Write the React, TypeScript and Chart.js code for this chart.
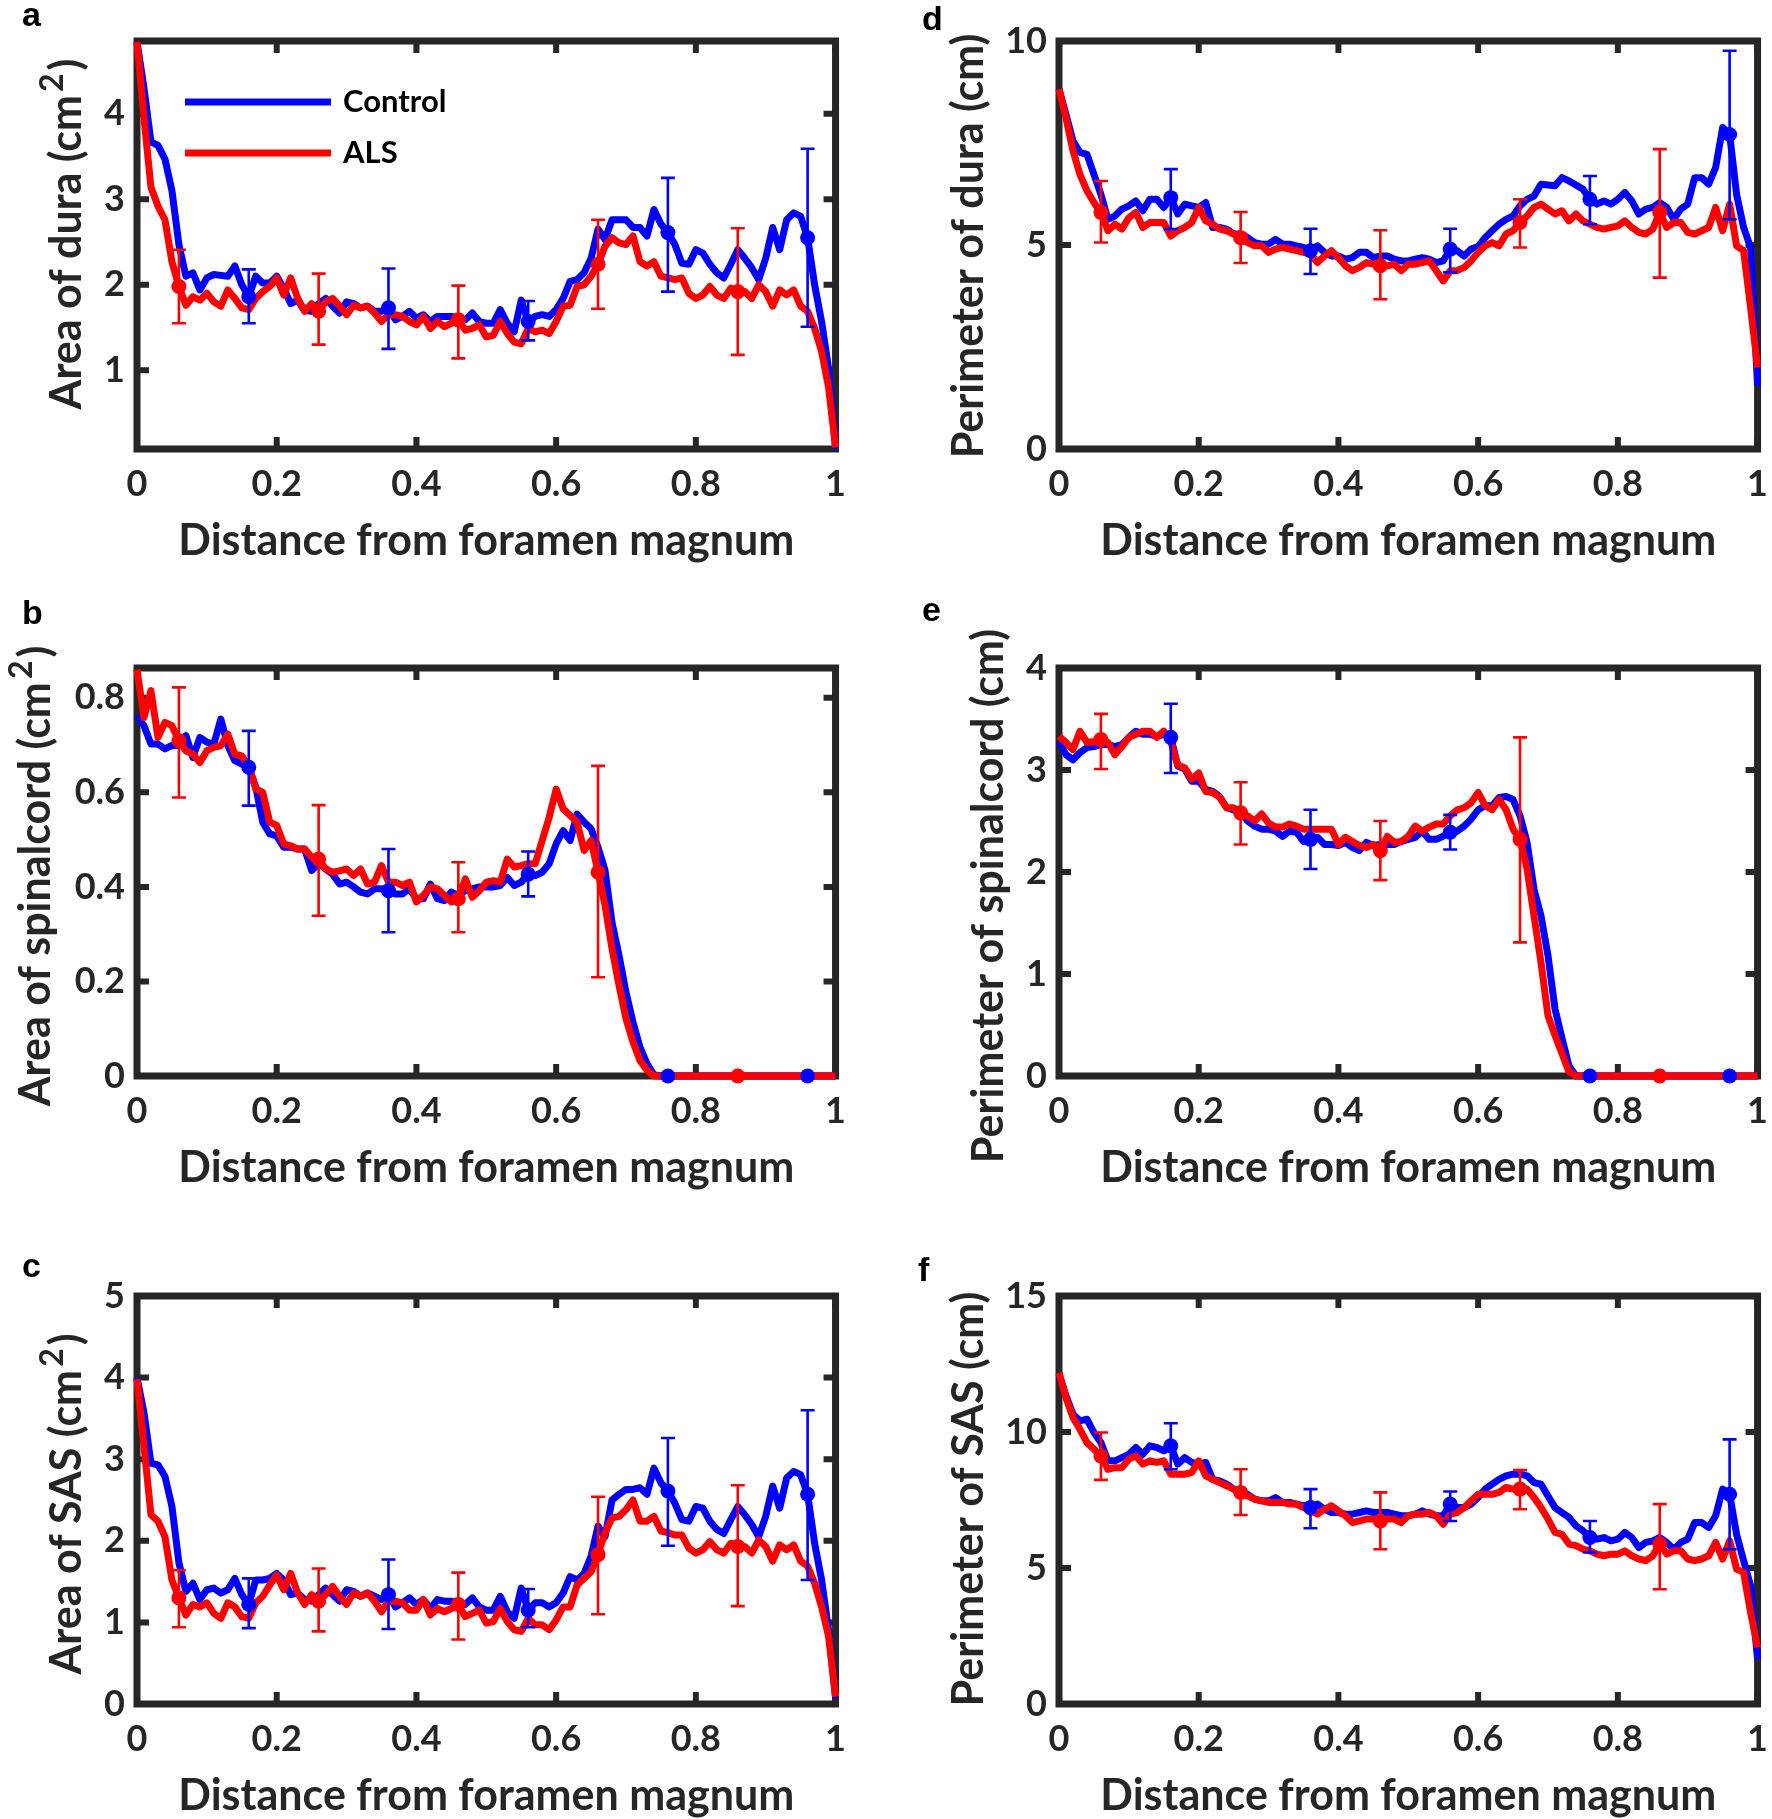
import React, { useEffect, useRef } from "react";
import { Chart, registerables } from "chart.js";

Chart.register(...registerables);

// ---------------- data ----------------
const DIST = Array.from({ length: 101 }, (_, i) => i / 100);
const X_TICKS = [0, 0.2, 0.4, 0.6, 0.8, 1];
const CTRL_ERR_X = [0.16, 0.36, 0.56, 0.76, 0.96];
const ALS_ERR_X = [0.06, 0.26, 0.46, 0.66, 0.86];

// (a) Area of dura
const A_Y_TICKS = [1, 2, 3, 4];
const A_CTRL = [
  4.84, 4.3, 3.67, 3.63, 3.47, 3.1, 2.47, 2.1, 2.14, 1.94,
  2.08, 2.12, 2.11, 2.1, 2.22, 2.0, 1.86, 2.1, 2.02, 2.02,
  2.1, 1.96, 1.78, 1.82, 1.7, 1.69, 1.78, 1.84, 1.75, 1.67,
  1.8, 1.78, 1.73, 1.75, 1.69, 1.69, 1.73, 1.59, 1.63, 1.69,
  1.61, 1.65, 1.57, 1.63, 1.63, 1.63, 1.61, 1.59, 1.67, 1.57,
  1.55, 1.55, 1.71, 1.55, 1.45, 1.82, 1.57, 1.63, 1.65, 1.63,
  1.71, 1.84, 2.04, 2.06, 2.14, 2.31, 2.65, 2.53, 2.76, 2.76,
  2.76, 2.67, 2.67, 2.57, 2.88, 2.71, 2.61, 2.47, 2.25, 2.24,
  2.41, 2.37, 2.24, 2.14, 2.08, 2.24, 2.41, 2.31, 2.2, 2.06,
  2.31, 2.67, 2.41, 2.76, 2.84, 2.8, 2.55, 2.0, 1.57, 1.02,
  0.08,
];
const A_ALS = [
  4.84, 3.95, 3.14, 2.92, 2.76, 2.27, 1.98, 1.76, 1.86, 1.82,
  1.9, 1.8, 1.75, 1.94, 1.84, 1.73, 1.71, 1.84, 1.92, 1.98,
  2.08, 1.88, 2.08, 1.84, 1.69, 1.78, 1.69, 1.8, 1.84, 1.75,
  1.65, 1.76, 1.73, 1.75, 1.67, 1.57, 1.65, 1.65, 1.63, 1.57,
  1.53, 1.63, 1.49, 1.57, 1.51, 1.55, 1.59, 1.47, 1.49, 1.53,
  1.39, 1.41, 1.57, 1.43, 1.33, 1.31, 1.49, 1.45, 1.47, 1.43,
  1.57, 1.75, 1.76, 1.98, 2.0, 2.1, 2.24, 2.45, 2.55, 2.49,
  2.47, 2.57, 2.27, 2.22, 2.27, 2.1, 2.08, 2.06, 2.08, 1.9,
  1.84, 1.88, 1.98, 1.88, 1.84, 1.96, 1.92, 1.92, 1.84, 2.0,
  1.92, 1.75, 1.94, 1.88, 1.94, 1.75, 1.69, 1.49, 1.22, 0.8,
  0.1,
];
const A_CTRL_ERR = [[1.55, 2.18], [1.25, 2.19], [1.35, 1.81], [1.92, 3.25], [1.51, 3.59]];
const A_ALS_ERR = [[1.55, 2.41], [1.3, 2.13], [1.14, 1.99], [1.72, 2.76], [1.18, 2.66]];

// (b) Area of spinal cord
const B_Y_TICKS = [0, 0.2, 0.4, 0.6, 0.8];
const B_CTRL = [
  0.762, 0.741, 0.702, 0.702, 0.692, 0.699, 0.699, 0.72, 0.674, 0.716,
  0.706, 0.702, 0.755, 0.699, 0.667, 0.66, 0.653, 0.611, 0.537, 0.512,
  0.508, 0.484, 0.484, 0.48, 0.48, 0.435, 0.449, 0.438, 0.427, 0.406,
  0.41, 0.4, 0.389, 0.385, 0.396, 0.396, 0.392, 0.385, 0.385, 0.396,
  0.375, 0.375, 0.406, 0.375, 0.371, 0.389, 0.382, 0.392, 0.396, 0.4,
  0.4, 0.4, 0.403, 0.42, 0.403, 0.41, 0.427, 0.424, 0.431, 0.449,
  0.491, 0.519, 0.498, 0.554, 0.537, 0.523, 0.484, 0.435, 0.325, 0.255,
  0.177, 0.114, 0.061, 0.026, 0.003, 0, 0, 0, 0, 0,
  0, 0, 0, 0, 0, 0, 0, 0, 0, 0,
  0, 0, 0, 0, 0, 0, 0, 0, 0, 0,
  0,
];
const B_ALS = [
  0.86, 0.758, 0.815, 0.716, 0.748, 0.741, 0.709, 0.688, 0.681, 0.663,
  0.688, 0.695, 0.699, 0.723, 0.681, 0.677, 0.656, 0.607, 0.6, 0.537,
  0.53, 0.491, 0.487, 0.48, 0.48, 0.463, 0.459, 0.438, 0.431, 0.434,
  0.438, 0.424, 0.438, 0.406, 0.41, 0.445, 0.41, 0.41, 0.403, 0.41,
  0.368, 0.382, 0.4, 0.396, 0.382, 0.368, 0.375, 0.417, 0.378, 0.392,
  0.41, 0.413, 0.41, 0.459, 0.442, 0.445, 0.449, 0.449, 0.498, 0.547,
  0.607, 0.565, 0.551, 0.537, 0.477, 0.498, 0.431, 0.361, 0.269, 0.192,
  0.121, 0.072, 0.033, 0.012, 0, 0, 0, 0, 0, 0,
  0, 0, 0, 0, 0, 0, 0, 0, 0, 0,
  0, 0, 0, 0, 0, 0, 0, 0, 0, 0,
  0,
];
const B_CTRL_ERR = [[0.572, 0.73], [0.304, 0.48], [0.38, 0.475], [0, 0], [0, 0]];
const B_ALS_ERR = [[0.589, 0.822], [0.339, 0.573], [0.304, 0.452], [0.209, 0.656], [0, 0]];

// (c) Area of SAS
const C_Y_TICKS = [0, 1, 2, 3, 4, 5];
const C_CTRL = [
  4.0, 3.57, 2.95, 2.93, 2.79, 2.42, 1.73, 1.38, 1.48, 1.28,
  1.4, 1.42, 1.36, 1.4, 1.54, 1.34, 1.22, 1.52, 1.52, 1.54,
  1.6, 1.52, 1.34, 1.36, 1.28, 1.26, 1.34, 1.42, 1.34, 1.26,
  1.4, 1.38, 1.32, 1.36, 1.32, 1.28, 1.34, 1.19, 1.24, 1.3,
  1.22, 1.28, 1.17, 1.28, 1.26, 1.26, 1.24, 1.22, 1.3, 1.19,
  1.15, 1.15, 1.32, 1.13, 1.05, 1.42, 1.15, 1.24, 1.24, 1.19,
  1.24, 1.36, 1.56, 1.52, 1.6, 1.81, 2.18, 2.05, 2.5, 2.57,
  2.63, 2.63, 2.65, 2.57, 2.89, 2.71, 2.61, 2.46, 2.26, 2.24,
  2.42, 2.4, 2.24, 2.14, 2.09, 2.26, 2.42, 2.32, 2.2, 2.05,
  2.3, 2.67, 2.4, 2.77, 2.85, 2.81, 2.57, 1.97, 1.52, 0.91,
  0.07,
];
const C_ALS = [
  3.98, 3.16, 2.32, 2.24, 2.05, 1.52, 1.3, 1.09, 1.22, 1.19,
  1.24, 1.11, 1.05, 1.24, 1.19, 1.07, 1.05, 1.24, 1.32, 1.46,
  1.58, 1.4, 1.6, 1.36, 1.22, 1.34, 1.26, 1.34, 1.44, 1.32,
  1.22, 1.36, 1.32, 1.36, 1.26, 1.13, 1.26, 1.26, 1.24, 1.15,
  1.15, 1.28, 1.09, 1.17, 1.13, 1.17, 1.22, 1.07, 1.11, 1.15,
  0.99, 1.01, 1.17, 1.01, 0.91, 0.89, 1.05, 0.97, 0.97, 0.91,
  1.03, 1.19, 1.19, 1.46, 1.54, 1.62, 1.83, 2.1, 2.28, 2.3,
  2.38, 2.5, 2.24, 2.24, 2.3, 2.12, 2.1, 2.07, 2.07, 1.91,
  1.85, 1.89, 1.99, 1.89, 1.85, 1.97, 1.93, 1.93, 1.85, 2.01,
  1.93, 1.75, 1.95, 1.89, 1.95, 1.75, 1.69, 1.48, 1.19, 0.83,
  0.09,
];
const C_CTRL_ERR = [[0.93, 1.54], [0.92, 1.77], [0.94, 1.41], [1.94, 3.26], [1.52, 3.6]];
const C_ALS_ERR = [[0.94, 1.64], [0.89, 1.66], [0.79, 1.61], [1.1, 2.54], [1.2, 2.68]];

// (d) Perimeter of dura
const D_Y_TICKS = [0, 5, 10];
const D_CTRL = [
  8.82, 8.2, 7.55, 7.27, 7.22, 6.73, 6.24, 5.63, 5.71, 5.88,
  5.96, 6.08, 5.84, 6.12, 6.12, 5.92, 6.16, 5.76, 6.0, 5.96,
  5.92, 6.04, 5.43, 5.43, 5.39, 5.27, 5.27, 5.18, 5.06, 5.02,
  5.02, 5.14, 5.02, 5.02, 4.98, 4.94, 4.86, 4.98, 4.82, 4.73,
  4.73, 4.65, 4.69, 4.82, 4.82, 4.69, 4.73, 4.73, 4.65, 4.61,
  4.61, 4.65, 4.69, 4.65, 4.57, 4.61, 4.9, 4.86, 4.73, 4.9,
  4.96, 5.18, 5.35, 5.51, 5.63, 5.71, 5.96, 6.12, 6.2, 6.49,
  6.47, 6.45, 6.65, 6.57, 6.47, 6.37, 6.12, 6.0, 6.08, 6.0,
  6.12, 6.29, 6.08, 5.76, 5.88, 5.92, 6.04, 5.92, 5.63, 5.88,
  6.0, 6.65, 6.65, 6.49, 6.9, 7.88, 7.71, 6.24, 5.43, 4.94,
  1.55,
];
const D_ALS = [
  8.82, 8.12, 7.31, 6.73, 6.33, 6.04, 5.8, 5.35, 5.51, 5.39,
  5.67, 5.8, 5.43, 5.55, 5.55, 5.55, 5.22, 5.35, 5.43, 5.55,
  5.92, 5.59, 5.51, 5.39, 5.35, 5.27, 5.18, 5.06, 4.98, 4.98,
  4.82, 4.9, 4.94, 4.9, 4.86, 4.82, 4.78, 4.57, 4.73, 4.86,
  4.69, 4.49, 4.37, 4.45, 4.57, 4.53, 4.49, 4.49, 4.53, 4.37,
  4.53, 4.53, 4.57, 4.61, 4.37, 4.12, 4.37, 4.37, 4.45, 4.61,
  4.82, 4.98, 5.06, 4.98, 5.27, 5.35, 5.55, 5.71, 5.92, 6.0,
  5.88, 5.76, 5.84, 5.59, 5.76, 5.59, 5.51, 5.43, 5.39, 5.43,
  5.47, 5.59, 5.43, 5.31, 5.27, 5.39, 5.8, 5.43, 5.55, 5.55,
  5.31, 5.27, 5.35, 5.43, 5.92, 5.35, 6.0, 4.98, 4.86, 3.47,
  2.0,
];
const D_CTRL_ERR = [[5.39, 6.86], [4.29, 5.4], [4.33, 5.4], [5.51, 6.69], [5.63, 9.76]];
const D_ALS_ERR = [[5.06, 6.57], [4.56, 5.81], [3.67, 5.36], [4.94, 6.12], [4.2, 7.35]];

// (e) Perimeter of spinal cord
const E_Y_TICKS = [0, 1, 2, 3, 4];
const E_CTRL = [
  3.28, 3.15, 3.1, 3.17, 3.22, 3.23, 3.25, 3.25, 3.23, 3.25,
  3.32, 3.38, 3.35, 3.35, 3.33, 3.35, 3.32, 3.04, 3.01, 2.89,
  2.89, 2.81, 2.79, 2.74, 2.63, 2.61, 2.58, 2.5, 2.45, 2.42,
  2.42, 2.4, 2.35, 2.4, 2.39, 2.3, 2.32, 2.34, 2.27, 2.27,
  2.26, 2.29, 2.24, 2.21, 2.29, 2.26, 2.27, 2.27, 2.27, 2.3,
  2.32, 2.34, 2.4, 2.32, 2.32, 2.35, 2.39, 2.4, 2.45, 2.52,
  2.61, 2.65, 2.65, 2.73, 2.74, 2.71, 2.55, 2.29, 1.83, 1.57,
  1.18, 0.66, 0.37, 0.1, 0, 0, 0, 0, 0, 0,
  0, 0, 0, 0, 0, 0, 0, 0, 0, 0,
  0, 0, 0, 0, 0, 0, 0, 0, 0, 0,
  0,
];
const E_ALS = [
  3.33, 3.27, 3.2, 3.38, 3.27, 3.28, 3.3, 3.27, 3.15, 3.23,
  3.32, 3.35, 3.38, 3.38, 3.32, 3.38, 3.28, 3.05, 3.02, 2.91,
  2.97, 2.79, 2.78, 2.73, 2.63, 2.63, 2.58, 2.55, 2.5, 2.57,
  2.48, 2.44, 2.44, 2.47, 2.45, 2.42, 2.42, 2.42, 2.42, 2.42,
  2.27, 2.34, 2.3, 2.26, 2.24, 2.27, 2.21, 2.35, 2.29, 2.3,
  2.35, 2.45, 2.4, 2.44, 2.47, 2.47, 2.55, 2.61, 2.63, 2.68,
  2.78, 2.65, 2.61, 2.71, 2.61, 2.42, 2.32, 2.03, 1.57, 1.11,
  0.59, 0.4, 0.22, 0.04, 0, 0, 0, 0, 0, 0,
  0, 0, 0, 0, 0, 0, 0, 0, 0, 0,
  0, 0, 0, 0, 0, 0, 0, 0, 0, 0,
  0,
];
const E_CTRL_ERR = [[2.97, 3.65], [2.03, 2.61], [2.22, 2.56], [0, 0], [0, 0]];
const E_ALS_ERR = [[3.01, 3.55], [2.27, 2.88], [1.92, 2.5], [1.31, 3.32], [0, 0]];

// (f) Perimeter of SAS
const F_Y_TICKS = [0, 5, 10, 15];
const F_CTRL = [
  12.12, 11.33, 10.65, 10.41, 10.47, 9.98, 9.61, 8.94, 8.94, 9.06,
  9.18, 9.43, 9.18, 9.49, 9.43, 9.31, 9.49, 8.82, 9.06, 8.88,
  8.82, 8.88, 8.26, 8.2, 8.08, 7.9, 7.84, 7.71, 7.53, 7.47,
  7.47, 7.59, 7.41, 7.41, 7.35, 7.29, 7.22, 7.35, 7.16, 7.04,
  7.04, 6.98, 6.98, 7.04, 7.1, 7.04, 7.04, 7.04, 6.98, 6.92,
  6.92, 6.98, 7.1, 6.98, 6.92, 6.92, 7.35, 7.22, 7.22, 7.35,
  7.59, 7.9, 8.08, 8.26, 8.39, 8.45, 8.45, 8.39, 8.14, 8.08,
  7.65, 7.22, 7.04, 6.86, 6.55, 6.37, 6.12, 6.06, 6.12, 6.0,
  6.06, 6.31, 6.12, 5.75, 5.94, 6.0, 6.12, 5.94, 5.69, 5.94,
  6.06, 6.67, 6.67, 6.49, 6.92, 7.9, 7.71, 6.24, 5.27, 4.35,
  1.65,
];
const F_ALS = [
  12.18, 11.26, 10.53, 10.1, 9.61, 9.37, 9.12, 8.63, 8.69, 8.69,
  9.0, 9.12, 8.82, 8.94, 8.88, 8.94, 8.45, 8.45, 8.45, 8.51,
  8.94, 8.39, 8.26, 8.14, 8.02, 7.9, 7.78, 7.65, 7.53, 7.47,
  7.41, 7.41, 7.41, 7.35, 7.35, 7.22, 7.1, 6.98, 7.16, 7.29,
  7.1, 6.92, 6.67, 6.73, 6.8, 6.8, 6.73, 6.8, 6.8, 6.67,
  6.92, 6.98, 6.98, 7.04, 6.92, 6.61, 6.98, 7.04, 7.22, 7.47,
  7.71, 7.71, 7.71, 7.78, 7.96, 7.9, 7.9, 7.9, 7.59, 7.22,
  6.8, 6.31, 6.24, 5.88, 5.82, 5.69, 5.63, 5.51, 5.45, 5.51,
  5.51, 5.63, 5.45, 5.33, 5.27, 5.45, 5.88, 5.51, 5.63, 5.63,
  5.33, 5.27, 5.33, 5.45, 5.94, 5.33, 6.0, 4.96, 4.84, 3.37,
  2.08,
];
const F_CTRL_ERR = [[8.63, 10.32], [6.46, 7.9], [6.73, 7.81], [5.57, 6.73], [5.69, 9.73]];
const F_ALS_ERR = [[8.24, 9.98], [6.95, 8.63], [5.69, 7.78], [7.16, 8.6], [4.22, 7.35]];

// ---------------- style / layout ----------------
const FONT = "Lato";
const INK = "#262626";
const BLUE = "#0000ff";
const RED = "#ff0000";

const PLOT_W = 703;
const PLOT_H = 408;
const COL_LEFT = [137, 1059];
const ROW_TOP = [41, 668, 1296];
const YW = 135;
const PAD_T = 60;
const PAD_R = 20;
const XH = 125;
const CW = YW + PLOT_W + PAD_R;
const CH = PAD_T + PLOT_H + XH;
const TITLE_SIZE = 43;

type PanelCfg = {
  letter: string;
  title: string;
  titleSup: string;
  titleEnd: string;
  titleX: number; // page x of the title's centre
  titleY: number; // page y of the title's centre
  ctrl: number[];
  als: number[];
  ctrlErr: number[][];
  alsErr: number[][];
  yTicks: number[];
  yMin: number;
  yMax: number;
  col: number;
  row: number;
  legend?: boolean;
};

const PANELS: PanelCfg[] = [
  { letter: "a", title: "Area of dura (cm", titleSup: "2", titleEnd: ")", titleX: 66, titleY: 234, ctrl: A_CTRL, als: A_ALS, ctrlErr: A_CTRL_ERR, alsErr: A_ALS_ERR, yTicks: A_Y_TICKS, yMin: 0.08, yMax: 4.85, col: 0, row: 0, legend: true },
  { letter: "b", title: "Area of spinalcord (cm", titleSup: "2", titleEnd: ")", titleX: 35, titleY: 876, ctrl: B_CTRL, als: B_ALS, ctrlErr: B_CTRL_ERR, alsErr: B_ALS_ERR, yTicks: B_Y_TICKS, yMin: 0, yMax: 0.863, col: 0, row: 1 },
  { letter: "c", title: "Area of SAS (cm", titleSup: "2", titleEnd: ")", titleX: 66, titleY: 1504, ctrl: C_CTRL, als: C_ALS, ctrlErr: C_CTRL_ERR, alsErr: C_ALS_ERR, yTicks: C_Y_TICKS, yMin: 0, yMax: 5, col: 0, row: 2 },
  { letter: "d", title: "Perimeter of dura (cm)", titleSup: "", titleEnd: "", titleX: 968, titleY: 246, ctrl: D_CTRL, als: D_ALS, ctrlErr: D_CTRL_ERR, alsErr: D_ALS_ERR, yTicks: D_Y_TICKS, yMin: 0, yMax: 10, col: 1, row: 0 },
  { letter: "e", title: "Perimeter of spinalcord (cm)", titleSup: "", titleEnd: "", titleX: 988, titleY: 896, ctrl: E_CTRL, als: E_ALS, ctrlErr: E_CTRL_ERR, alsErr: E_ALS_ERR, yTicks: E_Y_TICKS, yMin: 0, yMax: 4, col: 1, row: 1 },
  { letter: "f", title: "Perimeter of SAS (cm)", titleSup: "", titleEnd: "", titleX: 968, titleY: 1499, ctrl: F_CTRL, als: F_ALS, ctrlErr: F_CTRL_ERR, alsErr: F_ALS_ERR, yTicks: F_Y_TICKS, yMin: 0, yMax: 15, col: 1, row: 2 },
];

const LETTERS = [
  { t: "a", left: 22, top: -3 },
  { t: "b", left: 22, top: 595 },
  { t: "c", left: 22, top: 1248 },
  { t: "d", left: 922, top: 1 },
  { t: "e", left: 922, top: 592 },
  { t: "f", left: 918, top: 1252 },
];

function Panel({ cfg }: { cfg: PanelCfg }) {
  const ref = useRef<HTMLCanvasElement | null>(null);
  const canvasLeft = COL_LEFT[cfg.col] - YW;
  const canvasTop = ROW_TOP[cfg.row] - PAD_T;

  useEffect(() => {
    const canvas = ref.current;
    if (!canvas) return;

    const linePts = (vals: number[]) => DIST.map((x, i) => ({ x, y: vals[i] }));
    const markerPts = (xs: number[], vals: number[]) =>
      xs.map((x) => ({ x, y: vals[Math.round(x * 100)] }));

    const boxPlugin = {
      id: "box",
      beforeDatasetsDraw(chart: any) {
        const { ctx, chartArea } = chart;
        const { left, right, top, bottom } = chartArea;
        const xs = chart.scales.x;
        const ys = chart.scales.y;
        ctx.save();
        ctx.strokeStyle = INK;
        ctx.lineWidth = 7;
        ctx.strokeRect(left, top, right - left, bottom - top);
        ctx.lineWidth = 6;
        ctx.beginPath();
        const TL = 12;
        X_TICKS.forEach((v) => {
          const px = xs.getPixelForValue(v);
          ctx.moveTo(px, bottom);
          ctx.lineTo(px, bottom - TL);
          ctx.moveTo(px, top);
          ctx.lineTo(px, top + TL);
        });
        cfg.yTicks.forEach((v) => {
          const py = ys.getPixelForValue(v);
          ctx.moveTo(left, py);
          ctx.lineTo(left + TL, py);
          ctx.moveTo(right, py);
          ctx.lineTo(right - TL, py);
        });
        ctx.stroke();
        ctx.restore();
      },
    };

    const errPlugin = {
      id: "errbars",
      afterDatasetsDraw(chart: any) {
        const { ctx } = chart;
        const xs = chart.scales.x;
        const ys = chart.scales.y;
        const draw = (xv: number[], err: number[][], color: string) => {
          ctx.save();
          ctx.strokeStyle = color;
          ctx.lineWidth = 2.6;
          ctx.beginPath();
          xv.forEach((x, i) => {
            const [lo, hi] = err[i];
            if (hi - lo <= 0) return;
            const px = xs.getPixelForValue(x);
            const pl = ys.getPixelForValue(lo);
            const ph = ys.getPixelForValue(hi);
            const cap = 7;
            ctx.moveTo(px, pl);
            ctx.lineTo(px, ph);
            ctx.moveTo(px - cap, pl);
            ctx.lineTo(px + cap, pl);
            ctx.moveTo(px - cap, ph);
            ctx.lineTo(px + cap, ph);
          });
          ctx.stroke();
          ctx.restore();
        };
        draw(CTRL_ERR_X, cfg.ctrlErr, BLUE);
        draw(ALS_ERR_X, cfg.alsErr, RED);
      },
    };

    const legendPlugin = {
      id: "innerLegend",
      afterDraw(chart: any) {
        if (!cfg.legend) return;
        const { ctx, chartArea } = chart;
        const items = chart.data.datasets.filter((d: any) => d.inLegend);
        ctx.save();
        items.forEach((d: any, i: number) => {
          const y = chartArea.top + 61 + i * 51;
          ctx.strokeStyle = d.borderColor;
          ctx.lineWidth = 7;
          ctx.beginPath();
          ctx.moveTo(chartArea.left + 48, y);
          ctx.lineTo(chartArea.left + 194, y);
          ctx.stroke();
          ctx.fillStyle = "#000000";
          ctx.font = `bold 31px ${FONT}`;
          ctx.textAlign = "left";
          ctx.textBaseline = "middle";
          ctx.fillText(d.label, chartArea.left + 206, y);
        });
        ctx.restore();
      },
    };

    // y-axis title with a real superscript
    const yTitlePlugin = {
      id: "yTitle",
      afterDraw(chart: any) {
        const { ctx } = chart;
        const mainFont = `bold ${TITLE_SIZE}px ${FONT}`;
        const supFont = `bold ${Math.round(TITLE_SIZE * 0.74)}px ${FONT}`;
        const parts = [
          { text: cfg.title, font: mainFont, rise: 0, gap: 0 },
          { text: cfg.titleSup, font: supFont, rise: TITLE_SIZE * 0.44, gap: 3 },
          { text: cfg.titleEnd, font: mainFont, rise: 0, gap: 3 },
        ].filter((p) => p.text);
        ctx.save();
        let total = 0;
        const widths = parts.map((p) => {
          ctx.font = p.font;
          const w = ctx.measureText(p.text).width + p.gap;
          total += w;
          return w;
        });
        ctx.translate(cfg.titleX - canvasLeft, cfg.titleY - canvasTop);
        ctx.rotate(-Math.PI / 2);
        ctx.fillStyle = INK;
        ctx.textAlign = "left";
        ctx.textBaseline = "alphabetic";
        let x = -total / 2;
        const base = TITLE_SIZE * 0.36;
        parts.forEach((p, i) => {
          ctx.font = p.font;
          ctx.fillText(p.text, x + p.gap, base - p.rise);
          x += widths[i];
        });
        ctx.restore();
      },
    };

    const tickFont = { family: FONT, size: 36, weight: "bold" as const };
    const titleFont = { family: FONT, size: TITLE_SIZE, weight: "bold" as const };

    const chart = new Chart(canvas, {
      type: "line",
      data: {
        datasets: [
          {
            label: "Control",
            inLegend: true,
            data: linePts(cfg.ctrl),
            borderColor: BLUE,
            borderWidth: 7,
            pointRadius: 0,
            tension: 0,
            fill: false,
            clip: false,
            borderJoinStyle: "round",
            order: 4,
          } as any,
          {
            label: "ALS",
            inLegend: true,
            data: linePts(cfg.als),
            borderColor: RED,
            borderWidth: 7,
            pointRadius: 0,
            tension: 0,
            fill: false,
            clip: false,
            borderJoinStyle: "round",
            order: 3,
          } as any,
          {
            label: "Control markers",
            data: markerPts(CTRL_ERR_X, cfg.ctrl),
            showLine: false,
            pointRadius: 7.5,
            pointBackgroundColor: BLUE,
            pointBorderWidth: 0,
            borderColor: BLUE,
            clip: false,
            order: 2,
          } as any,
          {
            label: "ALS markers",
            data: markerPts(ALS_ERR_X, cfg.als),
            showLine: false,
            pointRadius: 7.5,
            pointBackgroundColor: RED,
            pointBorderWidth: 0,
            borderColor: RED,
            clip: false,
            order: 1,
          } as any,
        ],
      },
      options: {
        animation: false,
        responsive: false,
        maintainAspectRatio: false,
        devicePixelRatio: 1,
        events: [],
        layout: { padding: { top: PAD_T, right: PAD_R, left: 0, bottom: 0 } },
        plugins: {
          legend: { display: false },
          tooltip: { enabled: false },
        },
        scales: {
          x: {
            type: "linear",
            min: 0,
            max: 1,
            grid: { display: false, drawTicks: false },
            border: { display: false },
            afterBuildTicks: (s: any) => {
              s.ticks = X_TICKS.map((v) => ({ value: v }));
            },
            afterFit: (s: any) => {
              s.height = XH;
            },
            ticks: {
              padding: 14,
              color: INK,
              font: tickFont,
              maxRotation: 0,
              autoSkip: false,
              callback: (v: any) => String(v),
            },
            title: {
              display: true,
              text: "Distance from foramen magnum",
              color: INK,
              font: titleFont,
              padding: { top: 0, bottom: 7 },
            },
          },
          y: {
            type: "linear",
            min: cfg.yMin,
            max: cfg.yMax,
            grid: { display: false, drawTicks: false },
            border: { display: false },
            afterBuildTicks: (s: any) => {
              s.ticks = cfg.yTicks.map((v) => ({ value: v }));
            },
            afterFit: (s: any) => {
              s.width = YW;
            },
            ticks: {
              padding: 12,
              color: INK,
              font: tickFont,
              autoSkip: false,
              callback: (v: any) => String(v),
            },
            title: { display: false },
          },
        },
      } as any,
      plugins: [boxPlugin, errPlugin, legendPlugin, yTitlePlugin],
    });

    return () => chart.destroy();
  }, [cfg, canvasLeft, canvasTop]);

  return (
    <canvas
      ref={ref}
      width={CW}
      height={CH}
      style={{ position: "absolute", left: canvasLeft, top: canvasTop, width: CW, height: CH }}
    />
  );
}

export default function App() {
  return (
    <div
      style={{
        position: "absolute",
        left: 0,
        top: 0,
        width: 1772,
        height: 1819,
        overflow: "hidden",
        background: "#ffffff",
      }}
    >
      {PANELS.map((p) => (
        <Panel key={p.letter} cfg={p} />
      ))}
      {LETTERS.map((l) => (
        <div
          key={l.t}
          style={{
            position: "absolute",
            left: l.left,
            top: l.top,
            fontFamily: "'Liberation Sans', Arial, sans-serif",
            fontWeight: "bold",
            fontSize: 34,
            lineHeight: "34px",
            color: "#000000",
          }}
        >
          {l.t}
        </div>
      ))}
    </div>
  );
}
